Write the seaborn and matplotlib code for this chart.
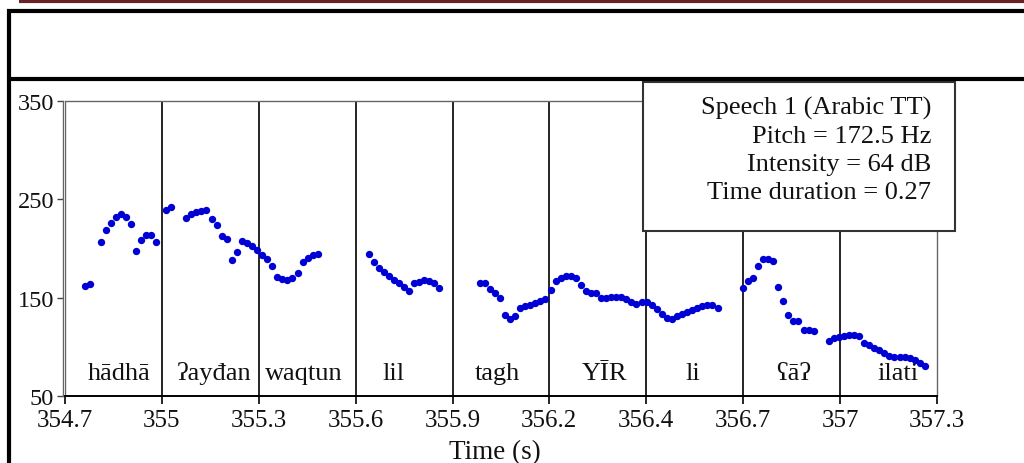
import matplotlib
matplotlib.use("Agg")
import matplotlib.pyplot as plt
from matplotlib.lines import Line2D
from matplotlib.patches import Rectangle
import seaborn as sns
import pandas as pd

# pitch track (time in s, f0 in Hz)
time_s = [
    354.760, 354.775, 354.806, 354.821, 354.836, 354.851, 354.866, 354.881, 354.896, 354.912, 354.927, 354.942, 354.956, 354.971,
    355.002, 355.017, 355.062, 355.077, 355.091, 355.106, 355.121, 355.137, 355.152, 355.168, 355.183, 355.198, 355.213, 355.228, 355.243, 355.258, 355.272,
    355.287, 355.302, 355.318, 355.333, 355.348, 355.363, 355.378, 355.394, 355.409, 355.424, 355.439, 355.453,
    355.606, 355.620, 355.635, 355.650, 355.665, 355.680, 355.696, 355.711, 355.726, 355.742, 355.756, 355.771, 355.786, 355.801, 355.816,
    355.937, 355.952, 355.967, 355.982, 355.997, 356.012, 356.027, 356.042, 356.058, 356.073, 356.087, 356.102, 356.117, 356.132,
    356.148, 356.163, 356.178, 356.193, 356.208, 356.224, 356.239, 356.253, 356.268, 356.283, 356.299, 356.314, 356.329, 356.344, 356.359, 356.374, 356.389, 356.403, 356.420, 356.434,
    356.450, 356.465, 356.480, 356.495, 356.510, 356.525, 356.540, 356.555, 356.570, 356.584, 356.599, 356.614, 356.629, 356.646,
    356.722, 356.737, 356.751, 356.766, 356.781, 356.796, 356.812, 356.827, 356.842, 356.857, 356.872, 356.887, 356.903, 356.918, 356.932,
    356.977, 356.992, 357.007, 357.022, 357.037, 357.052, 357.067, 357.082, 357.097, 357.113, 357.128, 357.143, 357.158, 357.173, 357.189, 357.204, 357.219, 357.234, 357.248, 357.263,
]
pitch_hz = [
    162.2, 163.9, 206.9, 218.5, 225.6, 231.7, 235.1, 231.7, 224.9, 197.8, 209.0, 213.4, 214.0, 206.9,
    239.2, 241.9, 230.7, 235.1, 237.1, 238.4, 239.2, 229.7, 224.2, 212.7, 209.4, 188.3, 196.4, 207.3, 205.9, 202.5, 198.5,
    193.7, 189.0, 181.9, 171.0, 169.0, 168.3, 170.0, 175.1, 186.0, 190.6, 193.4, 194.4,
    194.4, 186.6, 180.2, 175.8, 172.0, 167.7, 164.6, 160.8, 156.8, 164.6, 165.9, 167.7, 167.0, 164.6, 160.1,
    165.2, 164.6, 159.1, 154.7, 150.0, 132.1, 128.3, 131.7, 139.2, 141.2, 142.8, 144.9, 146.6, 148.6,
    157.5, 166.6, 170.3, 172.3, 172.0, 169.7, 162.9, 156.8, 154.4, 154.4, 150.0, 149.7, 150.7, 151.0, 150.7, 148.6, 145.6, 143.9, 145.3, 145.3,
    142.5, 138.2, 133.7, 129.3, 128.0, 131.1, 133.4, 135.7, 137.5, 139.8, 141.2, 142.8, 142.8, 139.5,
    159.8, 167.0, 170.3, 182.5, 189.0, 189.3, 187.0, 160.8, 146.6, 132.7, 126.3, 126.3, 117.4, 116.8, 116.4,
    106.2, 108.7, 109.7, 111.3, 112.0, 112.0, 111.0, 104.2, 101.9, 98.8, 96.5, 94.0, 91.0, 90.0, 90.0, 89.7, 88.6, 86.9, 83.6, 80.8,
]

# word boundaries (also the x ticks) and their printed labels
boundary_times = [354.7, 354.989, 355.278, 355.567, 355.856, 356.144, 356.433, 356.722, 357.011, 357.3]
tick_labels = ["354.7", "355", "355.3", "355.6", "355.9", "356.2", "356.4", "356.7", "357", "357.3"]

words = ["hādhā", "ʔayđan", "waqtun", "lil", "tagh", "YĪR", "li", "ʕāʔ", "ilati"]
word_times = [354.861, 355.143, 355.413, 355.680, 355.988, 356.309, 356.572, 356.873, 357.184]

y_ticks = [50, 150, 250, 350]

info_lines = ["Speech 1 (Arabic TT)", "Pitch = 172.5 Hz", "Intensity = 64 dB", "Time duration = 0.27"]

df = pd.DataFrame({"time": time_s, "pitch": pitch_hz})

sns.set_style("white")
plt.rcParams["font.family"] = ["Liberation Serif", "DejaVu Serif"]

W, H = 1024, 464
fig = plt.figure(figsize=(W / 100, H / 100), dpi=100)
ax = fig.add_axes([65 / W, 67 / H, 872 / W, 295 / H])

# spine position first, it resets the ticks
for side in ["left", "top", "right"]:
    ax.spines[side].set_color("#666666")
    ax.spines[side].set_linewidth(1.0)
ax.spines["left"].set_position(("outward", 1.5))
ax.spines["bottom"].set_color("black")
ax.spines["bottom"].set_linewidth(1.4)

sns.scatterplot(data=df, x="time", y="pitch", color="#0000D4", s=28, linewidth=0, ax=ax, zorder=3)

ax.set_xlim(boundary_times[0], boundary_times[-1])
ax.set_ylim(50, 350)

# word boundary lines
ax.vlines(boundary_times[1:-1], 50, 350, color="black", lw=1.2, zorder=2)
ax.vlines(boundary_times[0], 50, 350, color="#666666", lw=1.0, zorder=2)

for w, t in zip(words, word_times):
    ax.text(t, 67.3, w, ha="center", va="baseline", fontsize=19, color="#111111")

ax.set_xticks(boundary_times)
ax.set_xticklabels(tick_labels)
ax.set_yticks(y_ticks)
ax.set_yticklabels([str(v) for v in y_ticks])
ax.tick_params(axis="x", direction="out", length=6, width=1.2, color="black", pad=3.5,
               bottom=True, labelsize=18, labelcolor="#111111")
ax.tick_params(axis="y", direction="out", length=4.5, width=1.0, color="#444444", pad=2,
               left=True, labelsize=17.5, labelcolor="#111111")
ax.set_xlabel("")
ax.set_ylabel("")

# info box in the top right corner
box = Rectangle((643 / W, 1 - 232 / H), 312 / W, 149 / H, transform=fig.transFigure,
                facecolor="white", edgecolor="#333333", lw=1.5, clip_on=False, zorder=10)
ax.add_patch(box)
for i, line in enumerate(info_lines):
    fig.text(931 / W, 1 - (115 + i * 28) / H, line, ha="right", va="baseline",
             fontsize=19, color="#111111", zorder=11)

fig.text(495 / W, 1 - 459 / H, "Time (s)", ha="center", va="baseline", fontsize=19.5, color="#111111")

# page frame around the figure
fig.add_artist(Line2D([19 / W, 1], [1 - 2 / H] * 2, color="#6B2226", lw=3.0,
                      solid_capstyle="butt", transform=fig.transFigure))
fig.add_artist(Line2D([7 / W, 1], [1 - 12 / H] * 2, color="black", lw=3.0,
                      solid_capstyle="butt", transform=fig.transFigure))
fig.add_artist(Line2D([7 / W, 1], [1 - 80 / H] * 2, color="black", lw=3.0,
                      solid_capstyle="butt", transform=fig.transFigure))
fig.add_artist(Line2D([9 / W] * 2, [1 - 10 / H, 0], color="black", lw=3.0,
                      solid_capstyle="butt", transform=fig.transFigure))

fig.savefig("out.png", dpi=100)
plt.close(fig)
